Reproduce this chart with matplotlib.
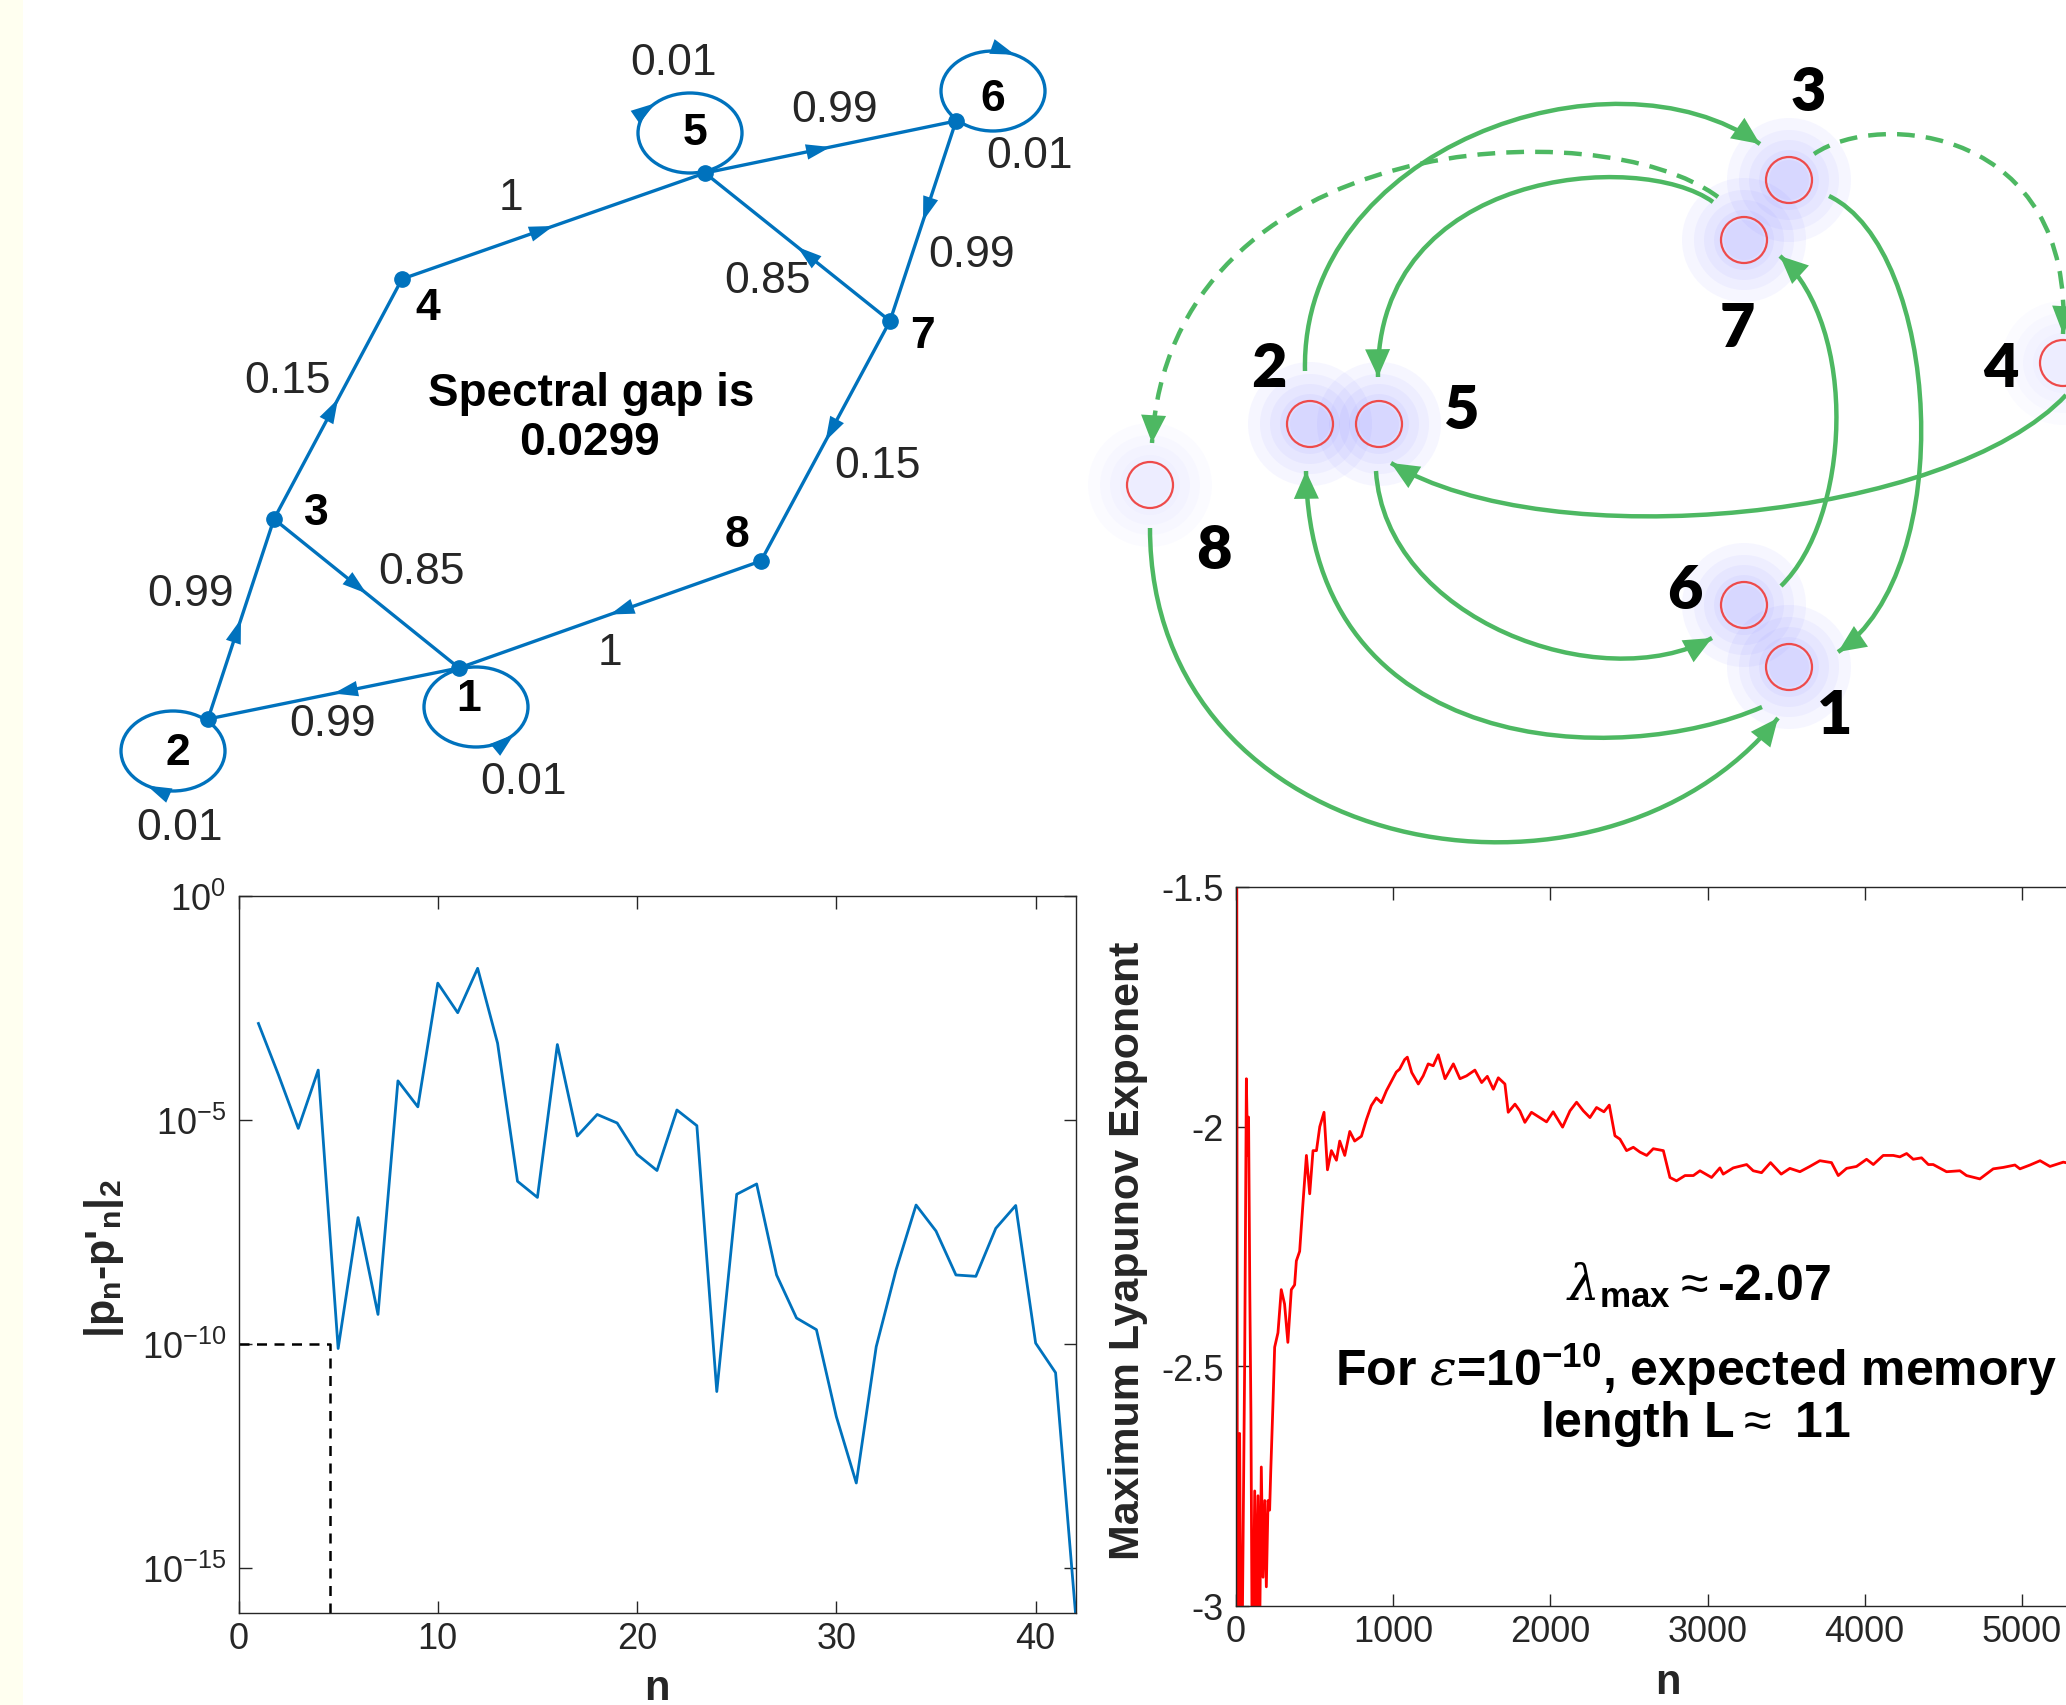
import numpy as np
import matplotlib
matplotlib.use('Agg')
import matplotlib.pyplot as plt
from matplotlib.path import Path
from matplotlib.patches import PathPatch, Ellipse, Circle, Rectangle
from matplotlib.ticker import NullLocator

plt.rcParams['font.family'] = ['Liberation Sans', 'DejaVu Sans']
plt.rcParams['mathtext.fontset'] = 'custom'
plt.rcParams['mathtext.rm'] = 'Liberation Sans'
plt.rcParams['mathtext.bf'] = 'Liberation Sans:bold'
plt.rcParams['mathtext.it'] = 'DejaVu Serif:italic'
plt.rcParams['axes.unicode_minus'] = False

W, H = 2066, 1706

# ---------------- top left: markov chain drawing (pixel layout) ----------------
chain_x = [459, 208, 274, 402, 705, 956, 890, 761]
chain_y = [669, 720, 520, 280, 174, 122, 322, 562]
chain_lbl_x = [469, 178, 316, 428, 695, 993, 923, 737]
chain_lbl_y = [699, 753, 513, 308, 133, 99, 336, 535]
edges = [(2, 3), (3, 4), (3, 1), (4, 5), (5, 6), (6, 7), (7, 5), (7, 8), (8, 1), (1, 2)]
edge_prob = ['0.99', '0.15', '0.85', '1', '0.99', '0.99', '0.85', '0.15', '1', '0.99']
edge_lbl_x = [191, 288, 421, 511, 835, 972, 768, 877, 610, 333]
edge_lbl_y = [594, 381, 572, 198, 110, 255, 281, 466, 653, 724]
loop_nodes = [5, 6, 1, 2]
loop_cx = [690, 993, 476, 173]
loop_cy = [134, 92, 708, 752]
loop_arrow_deg = [228, 295, 43, 120]
loop_dir = [1, 1, -1, 1]
loop_prob = ['0.01', '0.01', '0.01', '0.01']
loop_lbl_x = [674, 1030, 523, 179]
loop_lbl_y = [63, 156, 782, 828]

# ---------------- top right: state diagram ----------------
state_x = [1789, 1310, 1789, 2063, 1379, 1744, 1744, 1150]
state_y = [668, 425, 181, 364, 425, 606, 241, 486]
state_lbl_x = [1835, 1269, 1808, 2001, 1461, 1685, 1737, 1214]
state_lbl_y = [716, 369, 93, 369, 411, 591, 329, 551]
state_cloud = [1.0, 1.0, 1.0, 0.4, 1.0, 1.0, 1.0, 0.4]
# transitions as cubic bezier (start, ctrl, ctrl, arrow tip), dashed flag
arcs = [
    ((1305, 372), (1300, 150), (1610, 40), (1760, 145), False),   # 2 -> 3
    ((1713, 203), (1640, 150), (1375, 170), (1378, 378), False),  # 7 -> 5
    ((1718, 198), (1600, 110), (1170, 130), (1152, 444), True),   # 7 -> 8
    ((1814, 155), (1880, 110), (2075, 130), (2063, 335), True),   # 3 -> 4
    ((2066, 396), (1950, 520), (1550, 560), (1391, 464), False),  # 4 -> 5
    ((1376, 472), (1385, 620), (1600, 700), (1712, 639), False),  # 5 -> 6
    ((1781, 587), (1850, 520), (1860, 330), (1780, 257), False),  # 6 -> 7
    ((1829, 197), (1940, 250), (1960, 570), (1838, 653), False),  # 3 -> 1
    ((1762, 708), (1620, 770), (1310, 760), (1306, 472), False),  # 1 -> 2
    ((1150, 529), (1150, 860), (1600, 940), (1778, 719), False),  # 8 -> 1
]

# ---------------- bottom left: |p_n - p'_n|_2 ----------------
n_steps = np.arange(1, 43)
log_diff = [-2.85, -3.99, -5.19, -3.89, -10.1, -7.18, -9.34, -4.13, -4.71, -1.95,
            -2.61, -1.62, -3.29, -6.37, -6.73, -3.32, -5.36, -4.88, -5.07, -5.77,
            -6.13, -4.78, -5.13, -11.06, -6.66, -6.43, -8.46, -9.42, -9.68, -11.62,
            -13.10, -10.06, -8.34, -6.90, -7.48, -8.46, -8.49, -7.42, -6.91, -9.98,
            -10.64, -16.0]
guide_x = [0, 4.6, 4.6]
guide_y = [1e-10, 1e-10, 1e-16]

# ---------------- bottom right: max Lyapunov exponent ----------------
lyap_n = [5, 9, 16, 23, 30, 40, 55, 66, 74, 80, 88, 95, 102, 110, 119, 130, 140, 151, 161, 172,
          183, 193, 204, 214, 221, 236, 246, 267, 288, 309, 330, 352, 373, 384, 405, 426, 448, 469,
          490, 512, 533, 560, 582, 607, 639, 660, 692, 724, 755, 798, 830, 861, 893, 925, 957, 988,
          1020, 1041, 1073, 1090, 1118, 1160, 1191, 1223, 1255, 1287, 1330, 1383, 1425, 1467, 1520,
          1563, 1599, 1637, 1669, 1711, 1732, 1775, 1806, 1838, 1880, 1933, 1976, 2018, 2078, 2125,
          2167, 2210, 2252, 2294, 2341, 2375, 2411, 2443, 2485, 2528, 2570, 2613, 2655, 2719, 2761,
          2803, 2857, 2910, 2952, 3026, 3079, 3100, 3164, 3249, 3291, 3344, 3401, 3469, 3524, 3588,
          3651, 3715, 3789, 3832, 3885, 3948, 4012, 4055, 4118, 4182, 4224, 4267, 4309, 4362, 4405,
          4436, 4521, 4606, 4648, 4733, 4818, 4882, 4956, 4988, 5052, 5116, 5179, 5264, 5320]
lyap_v = [-1.45, -3.1, -3.05, -2.64, -3.05, -3.05, -2.5, -1.90, -2.06, -1.98, -2.35, -2.6, -3.05,
          -3.05, -2.76, -3.05, -2.77, -3.05, -2.71, -2.94, -2.78, -2.96, -2.78, -2.80, -2.72, -2.57,
          -2.46, -2.43, -2.34, -2.37, -2.45, -2.34, -2.33, -2.28, -2.26, -2.16, -2.06, -2.14, -2.05,
          -2.05, -2.00, -1.97, -2.09, -2.05, -2.07, -2.03, -2.06, -2.01, -2.03, -2.02, -1.985, -1.956,
          -1.94, -1.95, -1.925, -1.906, -1.886, -1.88, -1.86, -1.855, -1.887, -1.911, -1.894, -1.869,
          -1.873, -1.85, -1.90, -1.869, -1.90, -1.894, -1.882, -1.908, -1.895, -1.922, -1.898, -1.911,
          -1.97, -1.953, -1.967, -1.991, -1.97, -1.981, -1.99, -1.969, -2.001, -1.967, -1.949, -1.967,
          -1.981, -1.96, -1.969, -1.955, -2.019, -2.026, -2.05, -2.043, -2.053, -2.06, -2.046, -2.05,
          -2.106, -2.113, -2.102, -2.102, -2.092, -2.106, -2.086, -2.099, -2.086, -2.079, -2.092,
          -2.096, -2.075, -2.099, -2.087, -2.094, -2.083, -2.071, -2.075, -2.102, -2.087, -2.083,
          -2.068, -2.079, -2.06, -2.06, -2.063, -2.056, -2.068, -2.065, -2.079, -2.079, -2.094,
          -2.092, -2.102, -2.109, -2.088, -2.085, -2.08, -2.088, -2.08, -2.071, -2.083, -2.074, -2.078]

BLUE = '#0072BD'
GREEN = '#4DB862'
DARK = '#262626'


def head(ax, tip, back, color, size, hl, hw, z=5):
    tip = np.asarray(tip, float)
    d = tip - np.asarray(back, float)
    d = d / np.hypot(*d)
    ax.annotate('', xy=tip, xytext=tip - 6 * d,
                arrowprops=dict(arrowstyle='-|>,head_length=%g,head_width=%g' % (hl, hw),
                                color=color, lw=0, shrinkA=0, shrinkB=0,
                                mutation_scale=size), zorder=z)


fig = plt.figure(figsize=(W / 100, H / 100), dpi=100)
fig.patch.set_facecolor('white')

ov = fig.add_axes([0, 0, 1, 1])
ov.set_xlim(0, W)
ov.set_ylim(H, 0)
ov.axis('off')
ov.add_patch(Rectangle((0, 0), 23, H, fc='#FFFFF0', ec='none'))

# ---- markov chain
for a, b in edges:
    x0, y0 = chain_x[a - 1], chain_y[a - 1]
    x1, y1 = chain_x[b - 1], chain_y[b - 1]
    ov.plot([x0, x1], [y0, y1], color=BLUE, lw=2.4, solid_capstyle='butt')
    tip = (x0 + 0.5 * (x1 - x0), y0 + 0.5 * (y1 - y0))
    head(ov, tip, (x0, y0), BLUE, 16, 1.1, 0.35)
for k, nd in enumerate(loop_nodes):
    ov.add_patch(Ellipse((loop_cx[k], loop_cy[k]), 104, 80, fill=False, ec=BLUE, lw=2.4))
    t = np.radians(loop_arrow_deg[k])
    px, py = loop_cx[k] + 52 * np.cos(t), loop_cy[k] + 40 * np.sin(t)
    tx, ty = -52 * np.sin(t) * loop_dir[k], 40 * np.cos(t) * loop_dir[k]
    head(ov, (px, py), (px - tx, py - ty), BLUE, 16, 1.1, 0.35)
    ov.text(loop_lbl_x[k], loop_lbl_y[k], loop_prob[k], fontsize=32, ha='center', va='center', color=DARK)
ov.plot(chain_x, chain_y, 'o', ms=11, color=BLUE)
for k in range(8):
    ov.text(chain_lbl_x[k], chain_lbl_y[k], str(k + 1), fontsize=32, fontweight='bold',
            ha='center', va='center', color='black')
for k in range(len(edges)):
    ov.text(edge_lbl_x[k], edge_lbl_y[k], edge_prob[k], fontsize=32, ha='center', va='center', color=DARK)
ov.text(591, 394, 'Spectral gap is', fontsize=33, fontweight='bold', ha='center', va='center')
ov.text(589, 443, '0.0299', fontsize=33, fontweight='bold', ha='center', va='center')

# ---- state diagram
for k in range(8):
    for r in [62, 50, 40, 30, 20]:
        ov.add_patch(Circle((state_x[k], state_y[k]), r, fc='#5a5aff', ec='none',
                            alpha=0.05 * state_cloud[k], zorder=1))
for p0, p1, p2, p3, dashed in arcs:
    path = Path([p0, p1, p2, p3], [Path.MOVETO, Path.CURVE4, Path.CURVE4, Path.CURVE4])
    ov.add_patch(PathPatch(path, fill=False, ec=GREEN, lw=3.2,
                           ls=(0, (4, 2.5)) if dashed else '-', capstyle='butt', zorder=3))
    head(ov, p3, p2, GREEN, 20, 1.0, 0.45, z=4)
for k in range(8):
    ov.add_patch(Circle((state_x[k], state_y[k]), 23, fill=False, ec='#EE4B4B', lw=1.6, zorder=4))
    ov.text(state_lbl_x[k], state_lbl_y[k], str(k + 1), fontsize=44, fontweight='heavy',
            family=['Lato', 'DejaVu Sans'], ha='center', va='center', zorder=6)

# ---- bottom left
ax1 = fig.add_axes([238.5 / W, 1 - 1614 / H, 837 / W, 717.3 / H])
ax1.plot(n_steps, 10.0 ** np.array(log_diff), color=BLUE, lw=2)
ax1.plot(guide_x, guide_y, '--', color='black', lw=1.8, dashes=(4, 3))
ax1.set_yscale('log')
ax1.set_xlim(0, 42)
ax1.set_ylim(1e-16, 1)
ax1.set_xticks([0, 10, 20, 30, 40])
ax1.set_yticks([1e-15, 1e-10, 1e-5, 1])
ax1.yaxis.set_minor_locator(NullLocator())
ax1.set_xlabel('n', fontsize=30, fontweight='bold', color=DARK)
ax1.xaxis.set_label_coords(0.5, -0.077)
ax1.set_ylabel("|p$_{\\mathbf{n}}$-p'$_{\\mathbf{n}}$|$_{\\mathbf{2}}$", fontsize=31,
               fontweight='bold', color=DARK)
ax1.yaxis.set_label_coords(-0.134, 0.495)

# ---- bottom right
ax2 = fig.add_axes([1236 / W, 1 - 1607 / H, 943 / W, 719 / H])
ax2.plot(lyap_n, lyap_v, color='red', lw=2)
ax2.set_xlim(0, 6000)
ax2.set_ylim(-3, -1.5)
ax2.set_xticks([0, 1000, 2000, 3000, 4000, 5000])
ax2.set_xticklabels(['0', '1000', '2000', '3000', '4000', '5000'])
ax2.set_yticks([-3, -2.5, -2, -1.5])
ax2.set_yticklabels(['-3', '-2.5', '-2', '-1.5'])
ax2.set_xlabel('n', fontsize=30, fontweight='bold', color=DARK)
ax2.xaxis.set_label_coords(0.458, -0.078)
ax2.set_ylabel('Maximum Lyapunov Exponent', fontsize=31, fontweight='bold', color=DARK)
ax2.yaxis.set_label_coords(-0.093, 0.495)
ax2.text(2945, -2.36, r'$\lambda_{\mathbf{max}}$$\approx$-2.07', fontsize=36, fontweight='bold',
         ha='center', va='baseline')
ax2.text(2926, -2.539, r'For $\varepsilon$=10$^{\mathbf{-10}}$, expected memory', fontsize=36,
         fontweight='bold', ha='center', va='baseline')
ax2.text(2926, -2.646, r'length L$\approx$ 11', fontsize=36, fontweight='bold',
         ha='center', va='baseline')

for ax in (ax1, ax2):
    ax.tick_params(direction='in', length=9, width=1.0, top=True, right=True,
                   labelsize=26, colors=DARK, pad=6)
    ax.tick_params(axis='y', pad=9)
    for s in ax.spines.values():
        s.set_color(DARK)
        s.set_linewidth(1.0)

fig.savefig('out.png', dpi=100)
